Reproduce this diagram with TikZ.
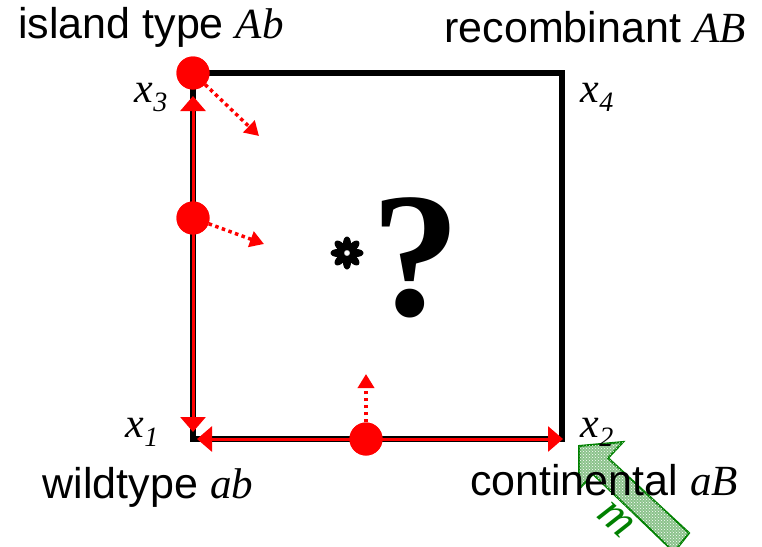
\documentclass[tikz,border=0pt]{standalone}
\usepackage{fontspec}
\setmainfont{Liberation Sans}
\newfontfamily\tms{Liberation Serif}
\usetikzlibrary{arrows.meta,patterns}
\definecolor{mred}{RGB}{255,0,0}
\definecolor{mgreen}{RGB}{0,128,0}
\definecolor{lgreen}{RGB}{140,195,140}
\newcommand\xsub[2]{#1\raisebox{-9pt}{\fontsize{28}{30}\selectfont #2}}
\begin{document}
\begin{tikzpicture}[x=1pt,y=-1pt,
  lbl/.style={font=\fontsize{43}{46}\selectfont, inner sep=0pt},
  var/.style={font=\fontsize{42}{44}\selectfont\tms\itshape, inner sep=0pt},
  sq/.style={line width=6.5pt, black, line join=miter},
  redl/.style={line width=3pt, mred},
  rhead/.style={-{Triangle[width=25pt,length=15pt]}},
  dot/.style={circle, fill=mred, minimum size=33pt, inner sep=0pt},
  dotarr/.style={mred, line width=3.5pt, dash pattern=on 3.5pt off 3.5pt, -{Triangle[width=16pt,length=14pt]}},
  garrow/.style={draw=mgreen, line width=2pt, fill=lgreen, postaction={pattern=crosshatch dots, pattern color=white}}
]
\useasboundingbox (0,0) rectangle (762,546);
% corners
\coordinate (c1) at (193,439);
\coordinate (c2) at (562,439);
\coordinate (c3) at (193,73);
\coordinate (c4) at (562,73);
\draw[sq] (c3) -- (c4) -- (c2) -- (c1) -- cycle;
% dots
\node[dot] (d3) at (c3) {};
\node[dot] (dm) at (193,218) {};
\node[dot] (db) at (366,439) {};
% red lines with arrows
\coordinate (upTip) at (193,96);
\coordinate (downTip) at (193,432);
\coordinate (leftTip) at (197,439);
\coordinate (rightTip) at (563,439);
\draw[redl,rhead] (dm.center) -- (upTip);
\draw[redl,rhead] (dm.center) -- (downTip);
\draw[redl,rhead] (db.center) -- (leftTip);
\draw[redl,rhead] (db.center) -- (rightTip);
\node[dot] at (dm) {};
\node[dot] at (db) {};
\node[dot] at (d3) {};
% dotted arrows
\coordinate (t1) at (259,136);
\coordinate (t2) at (264,244);
\coordinate (t3) at (366,374);
\draw[dotarr] (d3) -- (t1);
\draw[dotarr] (dm) -- (t2);
\draw[dotarr] (db) -- (t3);
% green arrow
\begin{scope}
\clip (0,0) rectangle (762,546);
\path[garrow] (579,446) -- (623,442) -- (608,458) -- (689,533) -- (674,552) -- (593,474) -- (579,489) -- cycle;
\end{scope}
\node[var, font=\fontsize{48}{50}\selectfont\tms\itshape, text=mgreen, rotate=-42] (m) at (616,520) {m};
% corner variables
\node[var] (x3) at (151,97) {\xsub{x}{3}};
\node[var] (x4) at (597,97) {\xsub{x}{4}};
\node[var] (x1) at (142,432) {\xsub{x}{1}};
\node[var] (x2) at (597,432) {\xsub{x}{2}};
% labels
\node[lbl] (island) at (151,27) {island type {\tms\itshape Ab}};
\node[lbl] (recomb) at (595,27) {recombinant {\tms\itshape AB}};
\node[lbl] (wild) at (148,487) {wildtype {\tms\itshape ab}};
\node[lbl] (cont) at (604,480) {continental {\tms\itshape aB}};
% centre symbols
\node[font=\fontsize{178}{180}\selectfont\tms\bfseries, inner sep=0pt] (q) at (416,258) {?};
\foreach \a in {0,45,...,315}
  \fill[shift={(347,253)}, rotate=\a] (9.5,0) ellipse [x radius=7, y radius=4];
\fill[white] (347,253) circle (1.6);
\end{tikzpicture}
\end{document}
